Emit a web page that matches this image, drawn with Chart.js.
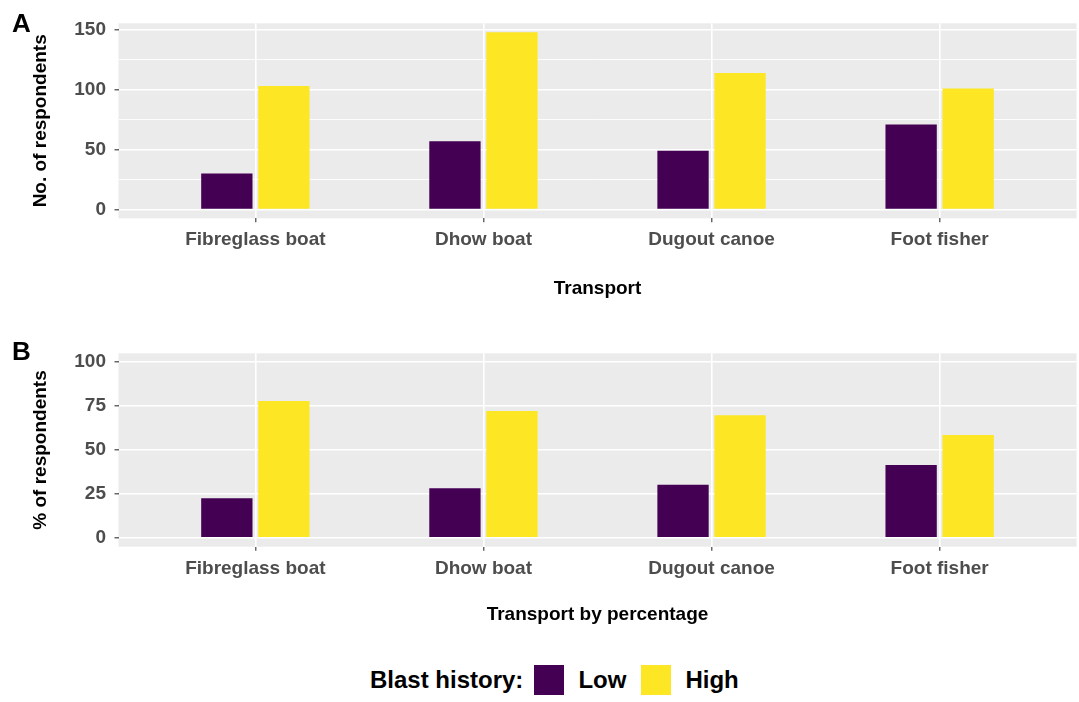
<!DOCTYPE html>
<html>
<head>
<meta charset="utf-8">
<title>Blast history by transport</title>
<script src="https://cdn.jsdelivr.net/npm/chart.js@4.4.1/dist/chart.umd.min.js"></script>
<style>
  html, body { margin: 0; padding: 0; background: #ffffff; }
  body { width: 1079px; height: 702px; position: relative; overflow: hidden;
         font-family: "Liberation Sans", Arial, sans-serif; }
  .panel { position: absolute; left: 0; width: 1079px; height: 310px; }
  #panelA { top: 0; }
  #panelB { top: 330px; }
  #legend { position: absolute; left: 370px; top: 664px; height: 32px;
            display: flex; align-items: center; font-weight: bold; font-size: 24px; color: #000; }
  #legend .swatch { width: 30px; height: 30px; }
</style>
</head>
<body>
<div class="panel" id="panelA"><canvas id="chartA" width="1079" height="310"></canvas></div>
<div class="panel" id="panelB"><canvas id="chartB" width="1079" height="310"></canvas></div>
<div id="legend"></div>

<script>
// Categories and series
const transportModes = ['Fibreglass boat', 'Dhow boat', 'Dugout canoe', 'Foot fisher'];
const blastLevels = ['Low', 'High'];
const levelColours = ['#440154', '#FDE725'];

// Panel A: number of respondents
const lowCounts = [30, 57, 49, 71];
const highCounts = [103, 148, 114, 101];

// Panel B: percentage of respondents within each transport type
const lowPercent = [22.6, 28.2, 30.2, 41.5];
const highPercent = [77.8, 72.2, 69.8, 58.6];

// Major tick labels on the value axes
const countTicks = [0, 50, 100, 150];
const percentTicks = [0, 25, 50, 75, 100];

const FONT = "'Liberation Sans', Arial, sans-serif";
Chart.defaults.font.family = FONT;

// grey panel background behind the grid
const panelBackground = {
  id: 'panelBackground',
  beforeDraw(chart) {
    const {ctx, chartArea: a} = chart;
    ctx.save();
    ctx.fillStyle = '#EBEBEB';
    ctx.fillRect(a.left, a.top, a.right - a.left, a.bottom - a.top);
    ctx.restore();
  }
};

// bold panel letter in the top-left corner
const panelTag = {
  id: 'panelTag',
  afterDraw(chart, args, opts) {
    const ctx = chart.ctx;
    ctx.save();
    ctx.font = 'bold 26px ' + FONT;
    ctx.fillStyle = '#000000';
    ctx.textBaseline = 'alphabetic';
    ctx.textAlign = 'left';
    ctx.fillText(opts.text, opts.x, opts.y);
    ctx.restore();
  }
};

function makePanel(canvasId, lowVals, highVals, cfg) {
  const majors = cfg.majorTicks;
  const step = majors[1] - majors[0];
  const allTicks = [];
  majors.forEach((v, i) => {
    allTicks.push(v);
    if (i < majors.length - 1) allTicks.push(v + step / 2);
  });
  const isMajor = v => majors.includes(v);
  const series = [lowVals, highVals];

  return new Chart(document.getElementById(canvasId), {
    type: 'bar',
    data: {
      datasets: blastLevels.map((name, k) => ({
        label: name,
        data: transportModes.map((_, i) => ({x: i, y: series[k][i]})),
        backgroundColor: levelColours[k],
        borderWidth: 0,
        categoryPercentage: 0.5,
        barPercentage: 0.9
      }))
    },
    options: {
      responsive: false,
      animation: false,
      events: [],
      layout: { padding: { left: 0, right: 2.5, top: 23.3, bottom: 0 } },
      plugins: {
        legend: { display: false },
        tooltip: { enabled: false },
        panelTag: { text: cfg.tag, x: 12, y: cfg.tagY }
      },
      scales: {
        x: {
          type: 'linear',
          min: -0.6,
          max: 3.6,
          offset: false,
          afterBuildTicks: s => { s.ticks = transportModes.map((_, i) => ({value: i})); },
          afterFit: s => { s.height = cfg.xHeight; },
          border: { display: false },
          grid: { offset: false, color: '#FFFFFF', lineWidth: 1.6, tickColor: '#333333', tickLength: 4, tickWidth: 1.1 },
          ticks: {
            callback: v => transportModes[v],
            color: '#4D4D4D',
            font: { size: 19, weight: 'bold' },
            padding: cfg.xTickPad,
            maxRotation: 0,
            autoSkip: false
          },
          title: {
            display: true,
            text: cfg.xTitle,
            color: '#000000',
            font: { size: 19, weight: 'bold' },
            padding: { top: 0, bottom: cfg.xTitlePad }
          }
        },
        y: {
          min: cfg.yMin,
          max: cfg.yMax,
          afterBuildTicks: s => { s.ticks = allTicks.map(v => ({value: v})); },
          afterFit: s => { s.width = 118.5; },
          border: { display: false },
          grid: {
            color: '#FFFFFF',
            lineWidth: c => (c.tick && isMajor(c.tick.value)) ? 1.6 : 0.9,
            tickColor: c => (c.tick && isMajor(c.tick.value)) ? '#333333' : 'rgba(0,0,0,0)',
            tickLength: 4,
            tickWidth: 1.1
          },
          ticks: {
            callback: v => isMajor(v) ? String(v) : '',
            color: '#4D4D4D',
            font: { size: 19, weight: 'bold' },
            padding: 8.5
          },
          title: {
            display: true,
            text: cfg.yTitle,
            color: '#000000',
            font: { size: 19, weight: 'bold' },
            padding: { top: 29.6, bottom: 0 }
          }
        }
      }
    },
    plugins: [panelBackground, panelTag]
  });
}

makePanel('chartA', lowCounts, highCounts, {
  tag: 'A', tagY: 32,
  majorTicks: countTicks, yMin: -7.4, yMax: 155.4,
  yTitle: 'No. of respondents', xTitle: 'Transport',
  xHeight: 91.7, xTickPad: 6.3, xTitlePad: 10.3
});

makePanel('chartB', lowPercent, highPercent, {
  tag: 'B', tagY: 30,
  majorTicks: percentTicks, yMin: -5, yMax: 105,
  yTitle: '% of respondents', xTitle: 'Transport by percentage',
  xHeight: 93.3, xTickPad: 6.9, xTitlePad: 14.3
});

// legend for the fill colours
const legend = document.getElementById('legend');
const head = document.createElement('span');
head.textContent = 'Blast history:';
head.style.marginRight = '11px';
legend.appendChild(head);
blastLevels.forEach((name, k) => {
  const sw = document.createElement('span');
  sw.className = 'swatch';
  sw.style.background = levelColours[k];
  sw.style.marginRight = '14px';
  legend.appendChild(sw);
  const lab = document.createElement('span');
  lab.textContent = name;
  if (k < blastLevels.length - 1) lab.style.marginRight = '15px';
  legend.appendChild(lab);
});
</script>
</body>
</html>
